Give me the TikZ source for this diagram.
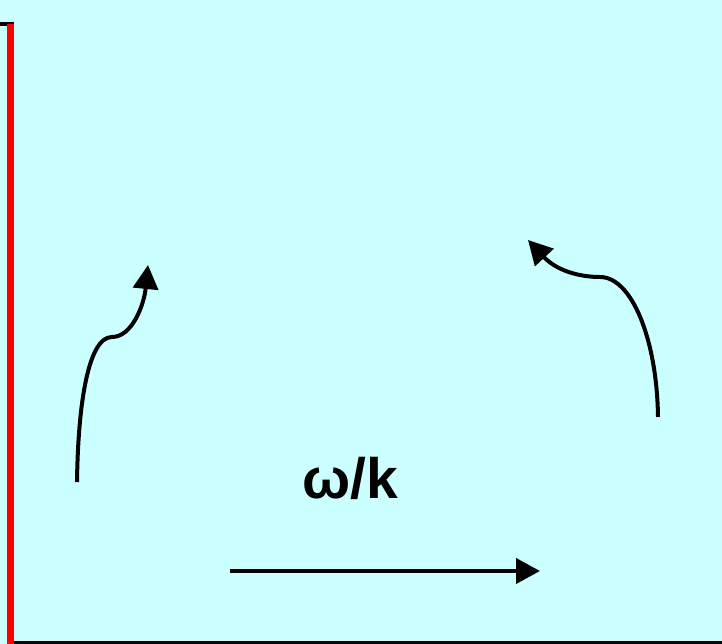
\documentclass[tikz,border=0pt]{standalone}
\usepackage{xcolor}
\usepackage{fontspec}
\setmainfont{Liberation Sans}
\usetikzlibrary{arrows.meta}
\definecolor{WaveBack}{HTML}{CCFFFF}
\definecolor{WaveRed}{HTML}{FF0000}
\definecolor{WaveInk}{HTML}{000000}
\tikzset{
  flowarrow/.style={WaveInk, line width=4pt, -{Triangle[length=24pt,width=25pt]}},
  speedlabel/.style={text=WaveInk, font=\fontsize{57pt}{62pt}\selectfont\bfseries, inner sep=0pt}
}
\begin{document}
\begin{tikzpicture}[x=1pt,y=-1pt]
        \useasboundingbox (0,0) rectangle (722,644);
        \fill[WaveBack] (0,0) rectangle (722,644);
        \draw[WaveInk, line width=4pt] (0,24) -- (14,24);
        \draw[WaveRed, line width=7pt] (10.5,24) -- (10.5,644);
        \draw[WaveInk, line width=3pt] (14,642.5) -- (722,642.5);
        \coordinate (leftfoot) at (77,482);
        \coordinate (leftknee) at (112,337);
        \coordinate (lefttip) at (148,265);
        \coordinate (rightfoot) at (658,417);
        \coordinate (rightknee) at (600,277);
        \coordinate (righttip) at (528,240);
        \coordinate (phasestart) at (230,571);
        \coordinate (phaseend) at (540,571);
        \draw[flowarrow] (leftfoot) .. controls (78,405) and (88,337) .. (leftknee) .. controls (132,337) and (144,305) .. (lefttip);
        \draw[flowarrow] (rightfoot) .. controls (657,340) and (632,277) .. (rightknee) .. controls (578,277) and (556,270) .. (righttip);
        \draw[flowarrow] (phasestart) -- (phaseend);
        \node[speedlabel, anchor=base] (speed) at (350,498) {ω/k};
\end{tikzpicture}
\end{document}
